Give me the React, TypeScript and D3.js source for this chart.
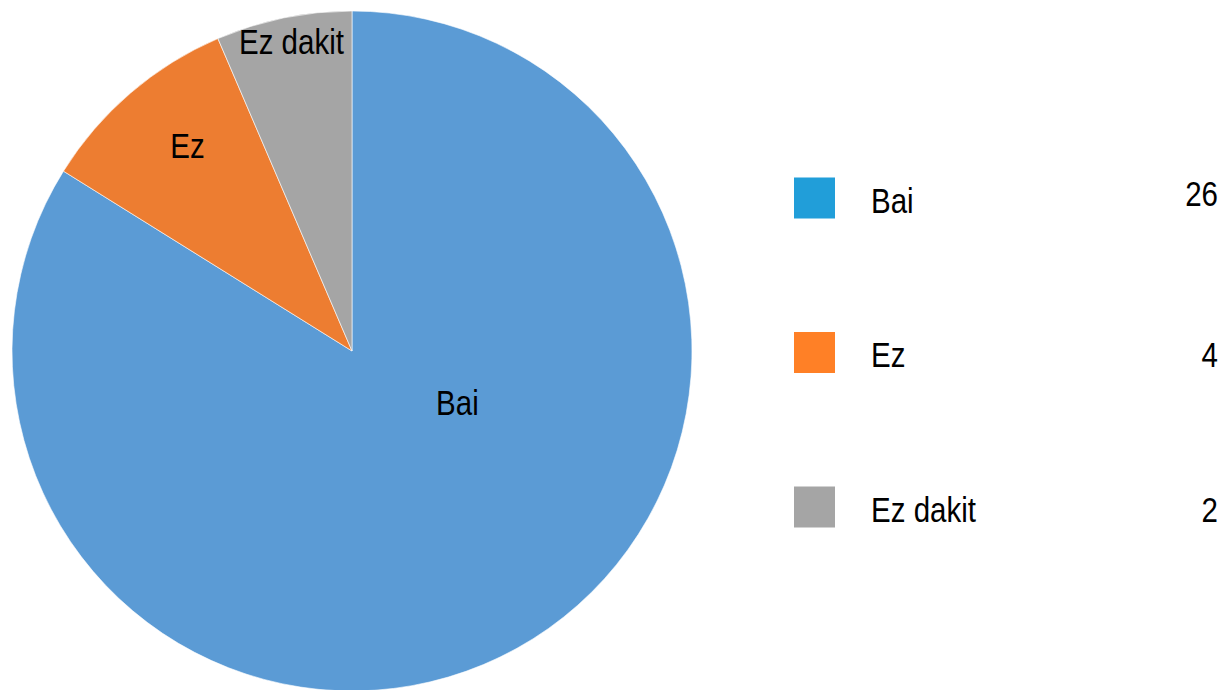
import React, { useRef, useEffect } from 'react';
import * as d3 from 'd3';

// slice sizes as drawn in the pie; legend counts as printed next to the legend
const categories = ['Bai', 'Ez', 'Ez dakit'];
const sliceValues = [26, 3, 2];
const legendCounts = ['26', '4', '2'];
const sliceColors = ['#5B9BD5', '#ED7D31', '#A5A5A5'];
const legendColors = ['#219ED9', '#FF8026', '#A5A5A5'];

const W = 1223;
const H = 690;
const FONT = '"Liberation Sans", Arial, sans-serif';
const FONT_SIZE = 36;
const SQUEEZE = 0.82; // the original face is a condensed grotesque

function PieChart() {
  const svgRef = useRef<SVGSVGElement | null>(null);

  useEffect(() => {
    const svg = d3.select(svgRef.current);
    svg.selectAll('*').remove();

    const cx = 352;
    const cy = 351;
    const radius = 340;

    const pie = d3
      .pie<number>()
      .sort(null)
      .value((d) => d);
    const arcs = pie(sliceValues);
    const arc = d3.arc<d3.PieArcDatum<number>>().innerRadius(0).outerRadius(radius);

    const g = svg.append('g').attr('transform', `translate(${cx},${cy})`);

    g.selectAll('path')
      .data(arcs)
      .enter()
      .append('path')
      .attr('d', arc)
      .attr('fill', (d, i) => sliceColors[i])
      .attr('stroke', '#ffffff')
      .attr('stroke-width', 0.6);

    // label placement: radius fraction per slice, Bai sits nearer the centre
    const labelRadius = [0.345, 0.775, 0.93];
    const labelAngleShift = [-0.61, 0.035, 0.01];
    g.selectAll('text.slice')
      .data(arcs)
      .enter()
      .append('text')
      .attr('class', 'slice')
      .attr('transform', (d, i) => {
        const mid = (d.startAngle + d.endAngle) / 2 + labelAngleShift[i];
        const [x, y] = d3.pointRadial(mid, radius * labelRadius[i]);
        return `translate(${x},${y}) scale(${SQUEEZE},1)`;
      })
      .attr('text-anchor', 'middle')
      .attr('dy', '0.36em')
      .attr('font-family', FONT)
      .attr('font-size', FONT_SIZE)
      .attr('fill', '#000')
      .text((d, i) => categories[i]);

    const legendY = d3.scalePoint<string>().domain(categories).range([198, 507]);
    const legend = svg.append('g');
    const rows = legend
      .selectAll('g')
      .data(categories)
      .enter()
      .append('g')
      .attr('transform', (d) => `translate(0,${legendY(d)})`);

    rows
      .append('rect')
      .attr('x', 794)
      .attr('y', -20.5)
      .attr('width', 41)
      .attr('height', 41)
      .attr('fill', (d, i) => legendColors[i]);

    rows
      .append('text')
      .attr('transform', `translate(871,14.5) scale(${SQUEEZE},1)`)
      .attr('font-family', FONT)
      .attr('font-size', FONT_SIZE)
      .attr('fill', '#000')
      .text((d) => d);

    rows
      .append('text')
      .attr('transform', (d, i) => `translate(1218,${i === 0 ? 7.5 : 14.5}) scale(${SQUEEZE},1)`)
      .attr('text-anchor', 'end')
      .attr('font-family', FONT)
      .attr('font-size', FONT_SIZE)
      .attr('fill', '#000')
      .text((d, i) => legendCounts[i]);
  }, []);

  return <svg ref={svgRef} width={W} height={H} style={{ display: 'block' }} />;
}

export default function App() {
  return (
    <div style={{ position: 'fixed', left: 0, top: 0, width: W, height: H, background: '#fff', overflow: 'hidden' }}>
      <PieChart />
    </div>
  );
}
